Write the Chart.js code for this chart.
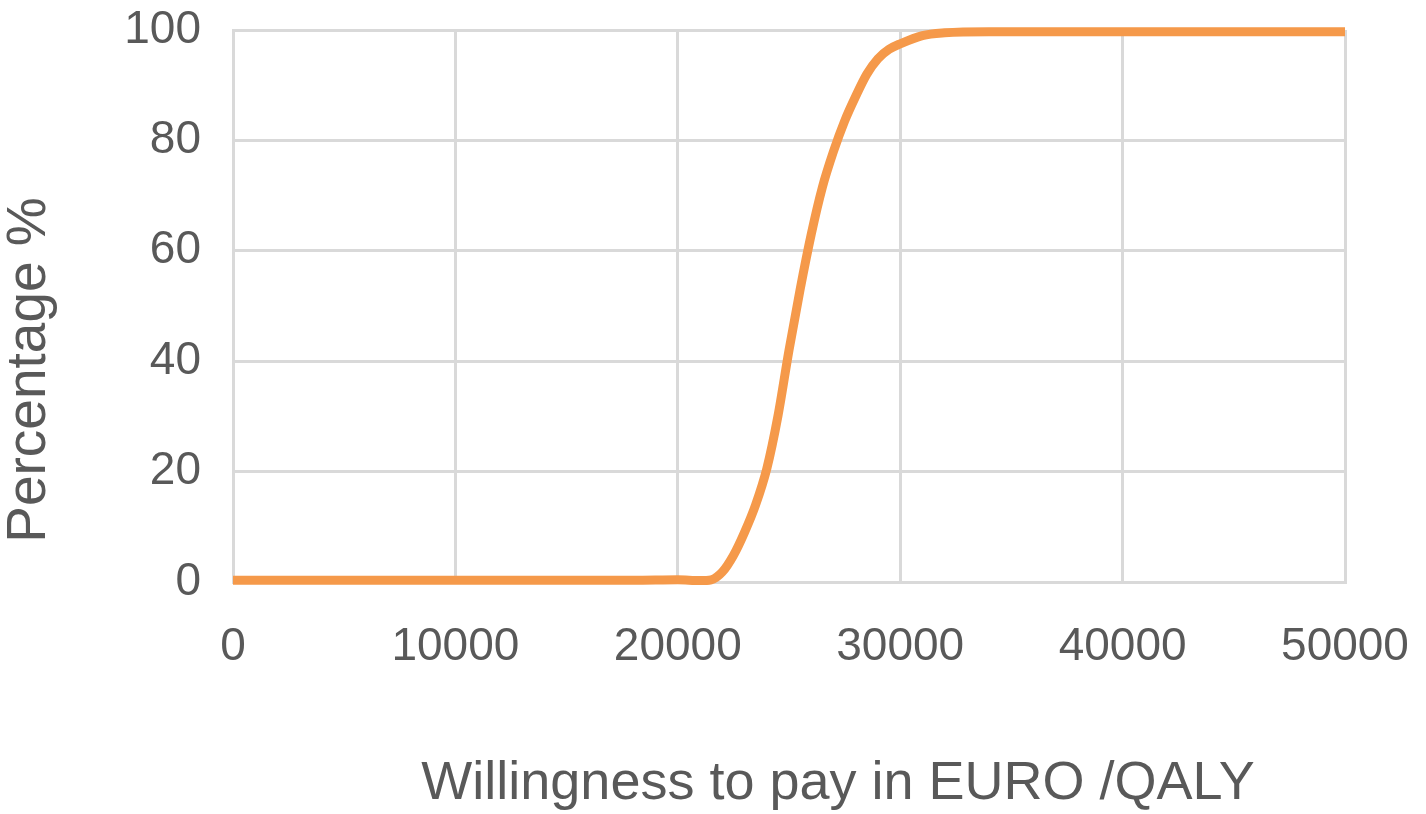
<!DOCTYPE html>
<html>
<head>
<meta charset="utf-8">
<script src="https://cdn.jsdelivr.net/npm/chart.js@4"></script>
<style>
  html, body { margin: 0; padding: 0; background: #ffffff; overflow: hidden; }
  #wrap { width: 1426px; height: 814px; }
</style>
</head>
<body>
<div id="wrap"><canvas id="chart" width="1426" height="814"></canvas></div>
<script>
// 数据：支付意愿 (EURO/QALY) 与百分比
const wtpValues = [0, 5000, 10000, 15000, 18000, 20000, 21000, 21500, 22000, 22500, 23000, 23500,
  24000, 24500, 25000, 25500, 26000, 26500, 27000, 27500, 28000, 28500, 29000, 29500, 30000,
  31000, 32000, 34000, 40000, 50000];
const percentValues = [0.3, 0.3, 0.3, 0.3, 0.3, 0.4, 0.25, 0.4, 1.8, 4.8, 9, 14,
  20.5, 30, 42, 53, 63, 71.5, 78, 83.5, 88, 92, 94.8, 96.5, 97.5,
  99, 99.5, 99.7, 99.7, 99.7];
const xTicks = [0, 10000, 20000, 30000, 40000, 50000];
const yTicks = [0, 20, 40, 60, 80, 100];

const points = wtpValues.map((x, i) => ({ x: x, y: percentValues[i] }));
const textColor = "#595959";
const fontFamily = "'Liberation Sans', Arial, Helvetica, sans-serif";

// 坐标轴标题用插件自己画，位置跟原图对齐
const axisTitles = {
  id: "axisTitles",
  afterDraw(chart) {
    const c = chart.ctx;
    c.save();
    c.fillStyle = textColor;
    c.textAlign = "center";
    c.textBaseline = "middle";
    c.font = "54px " + fontFamily;
    c.fillText("Willingness to pay in EURO /QALY", 838, 784);
    c.font = "55px " + fontFamily;
    c.translate(30, 370);
    c.rotate(-Math.PI / 2);
    c.fillText("Percentage %", 0, 0);
    c.restore();
  },
};

const ctx = document.getElementById("chart").getContext("2d");
new Chart(ctx, {
  type: "line",
  data: {
    datasets: [
      {
        data: points,
        borderColor: "#f5994a",
        borderWidth: 9,
        pointRadius: 0,
        cubicInterpolationMode: "monotone",
        fill: false,
        clip: false,
      },
    ],
  },
  options: {
    responsive: false,
    animation: false,
    layout: { padding: { top: 30, right: 81, left: 0, bottom: 0 } },
    plugins: { legend: { display: false }, tooltip: { enabled: false } },
    scales: {
      x: {
        type: "linear",
        min: 0,
        max: 50000,
        afterBuildTicks: (scale) => {
          scale.ticks = xTicks.map((v) => ({ value: v }));
        },
        afterFit: (scale) => {
          scale.height = 232;
          scale.paddingLeft = 0;
          scale.paddingRight = 0;
        },
        grid: { color: "#d9d9d9", lineWidth: 3, drawTicks: false },
        border: { color: "#d9d9d9", width: 3 },
        ticks: {
          color: textColor,
          font: { family: fontFamily, size: 46 },
          padding: 38,
          maxRotation: 0,
          callback: (v) => String(v),
        },
      },
      y: {
        min: 0,
        max: 100,
        afterBuildTicks: (scale) => {
          scale.ticks = yTicks.map((v) => ({ value: v }));
        },
        afterFit: (scale) => {
          scale.width = 233;
          scale.paddingTop = 0;
          scale.paddingBottom = 0;
        },
        grid: { color: "#d9d9d9", lineWidth: 3, drawTicks: false },
        border: { color: "#d9d9d9", width: 3 },
        ticks: {
          color: textColor,
          font: { family: fontFamily, size: 46 },
          padding: 32,
        },
      },
    },
  },
  plugins: [axisTitles],
});
</script>
</body>
</html>
